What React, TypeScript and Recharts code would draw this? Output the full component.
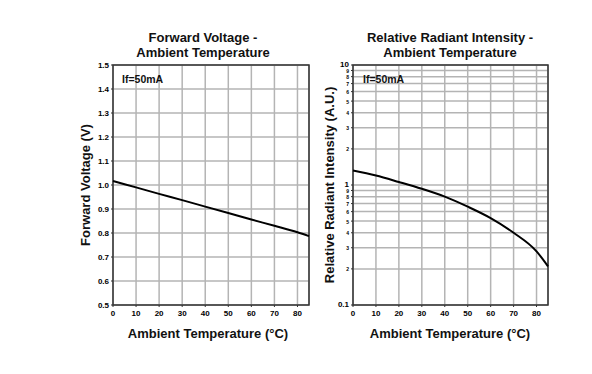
import React from 'react';
import { LineChart, Line, XAxis, YAxis, CartesianGrid, ReferenceArea } from 'recharts';

const temps = [0, 10, 20, 30, 40, 50, 60, 70, 80, 85];
const forwardVoltage = [1.017, 0.99, 0.963, 0.937, 0.91, 0.883, 0.856, 0.83, 0.803, 0.787];
const radiantIntensity = [1.32, 1.2, 1.06, 0.93, 0.8, 0.66, 0.53, 0.4, 0.28, 0.21];

const tempTicks = [0, 10, 20, 30, 40, 50, 60, 70, 80];
const voltTicks = [0.5, 0.6, 0.7, 0.8, 0.9, 1.0, 1.1, 1.2, 1.3, 1.4, 1.5];
const logTicks = [0.1, 0.2, 0.3, 0.4, 0.5, 0.6, 0.7, 0.8, 0.9, 1, 2, 3, 4, 5, 6, 7, 8, 9, 10];

const font = '"Liberation Sans", Arial, sans-serif';

const vfData = temps.map((t, i) => ({ t, v: forwardVoltage[i] }));
const irData = temps.map((t, i) => ({ t, v: radiantIntensity[i] }));

const tickStyle = { fontSize: 8, fontWeight: 'bold', fill: '#000', fontFamily: font };

// log axis: 0.1 / 1 / 10 full size, the rest as tiny single digits
function LogTick(props: any) {
  const { x, y, payload } = props;
  const v = payload.value;
  const major = v === 0.1 || v === 1 || v === 10;
  let label = String(v);
  if (!major) label = v < 1 ? String(Math.round(v * 10)) : String(v);
  return (
    <text
      x={x}
      y={y}
      dy={major ? 1.5 : 2.5}
      textAnchor="end"
      fontSize={major ? 8 : 5}
      fontWeight="bold"
      fill="#000"
      fontFamily={font}
    >
      {label}
    </text>
  );
}

function Txt({ x, y, size, children, rotate, align }: any) {
  return (
    <div
      style={{
        position: 'absolute',
        left: x,
        top: y,
        transform: `translate(${align === 'left' ? '0' : '-50%'}, -50%)${rotate ? ' rotate(-90deg)' : ''}`,
        fontFamily: font,
        fontWeight: 'bold',
        fontSize: size,
        lineHeight: '15px',
        textAlign: 'center',
        whiteSpace: 'nowrap',
        color: '#111',
      }}
    >
      {children}
    </div>
  );
}

export default function App() {
  return (
    <div style={{ position: 'relative', width: 592, height: 374, margin: -8, background: '#fff' }}>
      <div style={{ position: 'absolute', left: 0, top: 0 }}>
        <LineChart width={320} height={374} data={vfData} margin={{ top: 65, right: 11, bottom: 49, left: 83 }}>
          <CartesianGrid stroke="#b4b4b4" strokeWidth={1.5} />
          <XAxis
            dataKey="t"
            type="number"
            domain={[0, 85]}
            ticks={tempTicks}
            tick={tickStyle}
            tickSize={2}
            tickMargin={3}
            axisLine={false}
            tickLine={{ stroke: '#333' }}
            height={20}
          />
          <YAxis
            type="number"
            domain={[0.5, 1.5]}
            ticks={voltTicks}
            tickFormatter={(v: number) => v.toFixed(1)}
            tick={tickStyle}
            tickSize={2}
            tickMargin={2}
            axisLine={false}
            tickLine={{ stroke: '#333' }}
            width={30}
          />
          <ReferenceArea x1={0} x2={85} y1={0.5} y2={1.5} fill="none" stroke="#333" strokeWidth={1.5} />
          <Line dataKey="v" type="monotone" stroke="#000" strokeWidth={2} dot={false} isAnimationActive={false} />
        </LineChart>
      </div>
      <div style={{ position: 'absolute', left: 300, top: 0 }}>
        <LineChart width={260} height={374} data={irData} margin={{ top: 65, right: 12, bottom: 49, left: 23 }}>
          <CartesianGrid stroke="#b4b4b4" strokeWidth={1.5} />
          <XAxis
            dataKey="t"
            type="number"
            domain={[0, 85]}
            ticks={tempTicks}
            tick={tickStyle}
            tickSize={2}
            tickMargin={3}
            axisLine={false}
            tickLine={{ stroke: '#333' }}
            height={20}
          />
          <YAxis
            type="number"
            scale="log"
            domain={[0.1, 10]}
            allowDataOverflow
            ticks={logTicks}
            interval={0}
            tick={<LogTick />}
            tickSize={2}
            tickMargin={2}
            axisLine={false}
            tickLine={{ stroke: '#333' }}
            width={30}
          />
          <ReferenceArea x1={0} x2={85} y1={0.1} y2={10} fill="none" stroke="#333" strokeWidth={1.5} />
          <Line dataKey="v" type="monotone" stroke="#000" strokeWidth={2} dot={false} isAnimationActive={false} />
        </LineChart>
      </div>

      <Txt x={203} y={45} size={13}>
        Forward Voltage -<br />Ambient Temperature
      </Txt>
      <Txt x={450} y={45} size={13}>
        Relative Radiant Intensity -<br />Ambient Temperature
      </Txt>
      <Txt x={122} y={79} size={10.5} align="left">If=50mA</Txt>
      <Txt x={363} y={79} size={10.5} align="left">If=50mA</Txt>
      <Txt x={208} y={333} size={13}>Ambient Temperature (°C)</Txt>
      <Txt x={450} y={333} size={13}>Ambient Temperature (°C)</Txt>
      <Txt x={85} y={185} size={13} rotate>Forward Voltage (V)</Txt>
      <Txt x={329} y={185} size={13} rotate>Relative Radiant Intensity (A.U.)</Txt>
    </div>
  );
}
